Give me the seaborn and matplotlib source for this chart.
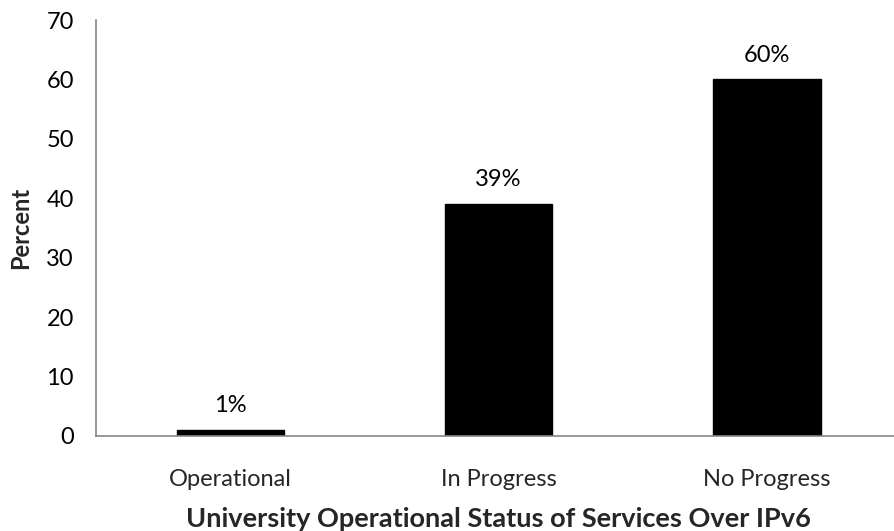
import matplotlib
matplotlib.use("Agg")
import matplotlib.pyplot as plt
import seaborn as sns
import pandas as pd

categories = ["Operational", "In Progress", "No Progress"]
values = [1, 39, 60]
bar_labels = ["1%", "39%", "60%"]
y_ticks = [0, 10, 20, 30, 40, 50, 60, 70]

sns.set_theme(style="white")
plt.rcParams['font.family'] = ['Lato', 'DejaVu Sans']

df = pd.DataFrame({"Status": categories, "Percent": values})

fig = plt.figure(figsize=(8.94, 5.31), dpi=100)
W, H = 894, 531
AX_W = 901 - 96
ax = fig.add_axes([96 / W, 95 / H, AX_W / W, (436 - 20) / H])

sns.barplot(data=df, x="Status", y="Percent", color="black", width=0.40,
            saturation=1, ax=ax, edgecolor="black")

ax.set_ylim(0, 70)
ax.set_xlim(-0.5, 2.5)
ax.set_yticks(y_ticks)
ax.set_xticks([-0.5, 0.5, 1.5, 2.5], minor=False)
ax.set_xticklabels([])
ax.set_xticks([0, 1, 2], minor=True)
ax.set_xticklabels(categories, minor=True, fontsize=17)
ax.tick_params(axis="x", which="minor", length=0, pad=24)
ax.tick_params(axis="x", which="major", length=6, color="#868686", width=1.2, direction="out")
ax.tick_params(axis="y", length=6, color="#868686", width=1.2, direction="out", labelsize=17, pad=10)
ax.tick_params(axis="both", labelcolor="black")

for s in ["top", "right"]:
    ax.spines[s].set_visible(False)
for s in ["left", "bottom"]:
    ax.spines[s].set_color("#868686")
    ax.spines[s].set_linewidth(1.2)

for i, (v, lab) in enumerate(zip(values, bar_labels)):
    ax.annotate(lab, (i, v), xytext=(0, 10), textcoords="offset points",
                ha="center", va="bottom", fontsize=17, color="black")

ax.set_xlabel("University Operational Status of Services Over IPv6",
              fontsize=19.5, fontweight="bold", labelpad=12)
ax.set_ylabel("Percent", fontsize=17, fontweight="bold")
ax.yaxis.set_label_coords((32 - 96) / AX_W, 0.5)

fig.savefig("out.png", dpi=100)
